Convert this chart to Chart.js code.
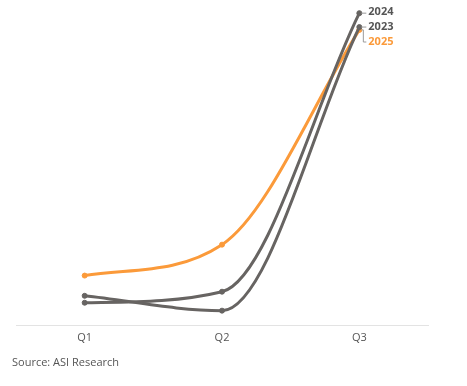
<!DOCTYPE html>
<html>
<head>
    <script src="https://cdn.jsdelivr.net/npm/chart.js"></script>
    <style>
        body { margin: 0; background: #fff; }
        #wrap { width: 467px; height: 386px; position: relative; }
        #source {
            position: absolute; left: 12px; top: 355px;
            font: 11px/13px "Open Sans", sans-serif; color: #555;
        }
    </style>
</head>
<body>
<div id="wrap">
    <canvas id="myChart"></canvas>
    <div id="source">Source: ASI Research</div>
</div>
<script>
    var quarters = ['Q1', 'Q2', 'Q3'];
    var values2023 = [9.5, 4.8, 94.6];
    var values2024 = [7.3, 10.8, 99];
    var values2025 = [15.9, 25.7, 93.7];
    var seriesNames = ['2023', '2024', '2025'];

    var grey = '#676462';
    var orange = '#fb9a3a';

    // end labels with little leader lines
    var endLabels = {
        id: 'endLabels',
        afterDatasetsDraw(chart) {
            var ctx = chart.ctx;
            var labelY = {'2024': 12, '2023': 27, '2025': 42};
            ctx.save();
            ctx.font = 'bold 11px "Open Sans", sans-serif';
            ctx.textBaseline = 'middle';
            chart.data.datasets.forEach(function (ds, i) {
                var meta = chart.getDatasetMeta(i);
                var pt = meta.data[meta.data.length - 1];
                var ly = labelY[ds.label];
                var lx = pt.x + 9;
                ctx.strokeStyle = '#9a9a9a';
                ctx.lineWidth = 1;
                ctx.beginPath();
                ctx.moveTo(pt.x + 2, pt.y);
                if (Math.abs(ly - pt.y) > 3) {
                    ctx.lineTo(pt.x + 4, pt.y);
                    ctx.lineTo(pt.x + 4, ly);
                    ctx.lineTo(lx - 2, ly);
                } else {
                    ctx.lineTo(lx - 2, pt.y);
                }
                ctx.stroke();
                ctx.fillStyle = ds.label === '2025' ? orange : '#555';
                ctx.fillText(ds.label, lx, ly);
            });
            ctx.restore();
        }
    };

    var chart = new Chart(document.getElementById('myChart').getContext('2d'), {
        type: 'line',
        data: {
            labels: quarters,
            datasets: [{
                label: seriesNames[0],
                data: values2023,
                borderColor: grey,
                backgroundColor: grey
            }, {
                label: seriesNames[1],
                data: values2024,
                borderColor: grey,
                backgroundColor: grey
            }, {
                label: seriesNames[2],
                data: values2025,
                borderColor: orange,
                backgroundColor: orange
            }]
        },
        options: {
            responsive: true,
            maintainAspectRatio: false,
            animation: false,
            elements: {
                line: { borderWidth: 3, cubicInterpolationMode: 'monotone', fill: false },
                point: { radius: 2.5, hoverRadius: 3 }
            },
            layout: { padding: { left: 16, right: 39, top: 10, bottom: 37 } },
            plugins: {
                legend: { display: false },
                tooltip: { enabled: false }
            },
            scales: {
                x: {
                    offset: true,
                    grid: { display: false, drawTicks: false },
                    border: { display: true, color: '#e3e3e3' },
                    ticks: { color: '#555', font: { size: 11, family: '"Open Sans", sans-serif' }, padding: 5 }
                },
                y: {
                    display: false,
                    min: 0,
                    max: 100
                }
            }
        },
        plugins: [endLabels]
    });
</script>
</body>
</html>
